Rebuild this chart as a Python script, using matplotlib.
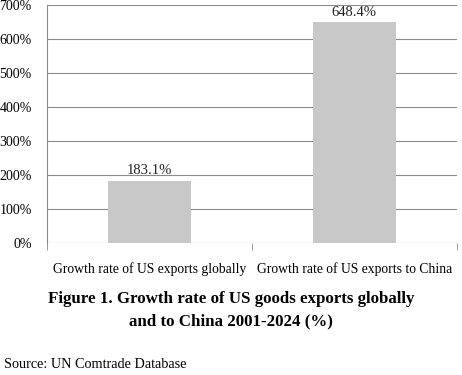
import matplotlib.pyplot as plt
import matplotlib.ticker as mticker

categories = ['Growth rate of US exports globally', 'Growth rate of US exports to China']
growth = [183.1, 648.4]
bar_labels = ['183.1%', '648.4%']

plt.rcParams['font.family'] = ['Liberation Serif', 'DejaVu Serif']

fig = plt.figure(figsize=(4.62, 3.75), dpi=100)
ax = fig.add_axes([0.1017, 0.352, 0.887, 0.635])

x = [0, 1]
bars = ax.bar(x, growth, width=0.405, color='#c8c8c8', zorder=3)
for b, lab in zip(bars, bar_labels):
    ax.text(b.get_x() + b.get_width() / 2, b.get_height() + 10, lab,
            ha='center', va='bottom', fontsize=10.5, color='#222222')

ax.set_xlim(-0.5, 1.5)
ax.set_ylim(0, 700)
ax.set_yticks(range(0, 701, 100))
ax.yaxis.set_major_formatter(mticker.FuncFormatter(lambda v, p: '%d%%' % v))
ax.grid(axis='y', color='#8a8a8a', linewidth=0.8, zorder=0)

# category labels, with tick marks at category boundaries
ax.set_xticks(x)
ax.set_xticklabels(categories, fontsize=9.8)
ax.tick_params(axis='x', length=0, pad=14)
ax.set_xticks([-0.5, 0.5, 1.5], minor=True)
ax.tick_params(axis='x', which='minor', length=5, color='#8a8a8a')
ax.tick_params(axis='y', length=0, labelsize=10, pad=11)

for s in ['top', 'right', 'bottom']:
    ax.spines[s].set_visible(False)
ax.spines['left'].set_color('#8a8a8a')

fig.text(0.5, 0.173, 'Figure 1. Growth rate of US goods exports globally\nand to China 2001-2024 (%)',
         ha='center', va='center', fontsize=12.2, fontweight='bold', linespacing=1.5)
fig.text(0.008, 0.027, 'Source: UN Comtrade Database', ha='left', va='center', fontsize=10.3)

fig.savefig('out.png', dpi=100)
